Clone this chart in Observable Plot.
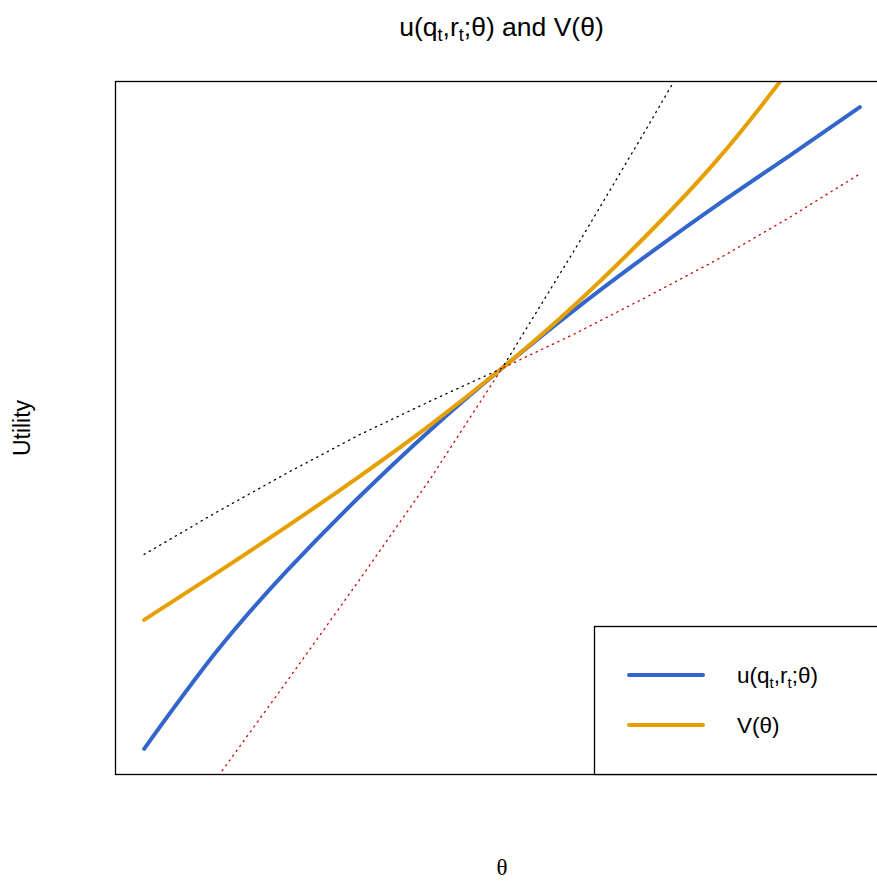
<!DOCTYPE html>
<html>
<head>
<meta charset="utf-8">
<script src="https://cdn.jsdelivr.net/npm/d3@7"></script>
<script src="https://cdn.jsdelivr.net/npm/@observablehq/plot@0.6"></script>
<style>
  html, body { margin: 0; padding: 0; overflow: hidden; background: #fff; }
  #wrap { position: relative; width: 900px; height: 882px; font-family: "Liberation Sans", Arial, sans-serif; }
  #title { height: 50px; line-height: 54px; box-sizing: border-box; padding-left: 115px; padding-right: 12px;
           text-align: center; font-size: 26.5px; color: #000; white-space: nowrap; }
  #title sub { font-size: 0.68em; vertical-align: -0.28em; line-height: 0; }
  #legend { position: absolute; left: 594px; top: 626px; }
</style>
</head>
<body>
<div id="wrap">
  <div id="title">u(q<sub>t</sub>,r<sub>t</sub>;θ) and V(θ)</div>
  <div id="chart"></div>
  <div id="legend"></div>
</div>
<script>
// ---- data ----
const theta = [0, 0.1, 0.2, 0.3, 0.4, 0.5, 0.6, 0.7, 0.8, 0.9, 1.0];
const uValues = [0, 0.150, 0.278, 0.392, 0.497, 0.593, 0.683, 0.767, 0.847, 0.923, 1.0];
const vValues = [0.201, 0.273, 0.347, 0.424, 0.505, 0.593, 0.690, 0.798, 0.917, 1.057, 1.21];
const upperDotted = [0.303, 0.368, 0.430, 0.489, 0.542, 0.593, 0.775, 0.963, 1.155, 1.35, 1.54];
const lowerDotted = [-0.2, -0.048, 0.106, 0.262, 0.421, 0.593, 0.646, 0.703, 0.762, 0.827, 0.896];
const legendLabels = ["u(q_t,r_t;θ)", "V(θ)"];

const BLUE = "#3366CC", ORANGE = "#E69F00", RED = "#CC0000";

const rows = (vals) => theta.map((t, i) => ({theta: t, value: vals[i]}));

const chart = Plot.plot({
  width: 900,
  height: 832,
  marginLeft: 115,
  marginRight: 12,
  marginTop: 31,
  marginBottom: 108,
  style: {fontFamily: "'Liberation Sans', Arial, sans-serif", background: "white", color: "black"},
  x: {domain: [-0.04, 1.04], axis: null},
  y: {domain: [-0.04, 1.04], axis: null},
  marks: [
    Plot.line(rows(uValues), {x: "theta", y: "value", stroke: BLUE, strokeWidth: 4, curve: "natural", clip: true, strokeLinecap: "round"}),
    Plot.line(rows(vValues), {x: "theta", y: "value", stroke: ORANGE, strokeWidth: 4, curve: "natural", clip: true, strokeLinecap: "round"}),
    Plot.line(rows(upperDotted), {x: "theta", y: "value", stroke: "black", strokeWidth: 1.3, strokeDasharray: "1.3,4.7", clip: true}),
    Plot.line(rows(lowerDotted), {x: "theta", y: "value", stroke: RED, strokeWidth: 1.3, strokeDasharray: "1.3,4.7", clip: true}),
    Plot.frame({stroke: "black", strokeWidth: 1.3}),
    Plot.text(["θ"], {text: d => d, frameAnchor: "bottom", lineAnchor: "middle", textAnchor: "middle", dy: 93, fontSize: 23, fontFamily: "'Liberation Serif', 'DejaVu Serif', serif"}),
    Plot.text(["Utility"], {text: d => d, frameAnchor: "left", textAnchor: "middle", lineAnchor: "middle", dx: -93, rotate: -90, fontSize: 23})
  ]
});
document.getElementById("chart").appendChild(chart);

// ---- legend (HTML/SVG overlay) ----
const lg = d3.select("#legend").append("svg").attr("width", 300).attr("height", 150)
  .style("overflow", "visible").style("font-family", "'Liberation Sans', Arial, sans-serif");
lg.append("rect").attr("x", 0.5).attr("y", 0.5).attr("width", 294).attr("height", 148)
  .attr("fill", "white").attr("stroke", "black").attr("stroke-width", 1.3);
const cols = [BLUE, ORANGE];
legendLabels.forEach((lab, i) => {
  const y = 49 + i * 50;
  lg.append("line").attr("x1", 35).attr("x2", 109).attr("y1", y).attr("y2", y)
    .attr("stroke", cols[i]).attr("stroke-width", 4).attr("stroke-linecap", "round");
  const t = lg.append("text").attr("x", 143).attr("y", y + 8).attr("font-size", 22.5).attr("fill", "black");
  const parts = lab.split(/_(.)/);
  let sub = false;
  parts.forEach((p, k) => {
    if (k % 2 === 1) {
      t.append("tspan").attr("font-size", 15).attr("dy", 5).text(p);
      sub = true;
    } else if (p.length) {
      const ts = t.append("tspan").text(p);
      if (sub) { ts.attr("dy", -5); sub = false; }
    }
  });
});
</script>
</body>
</html>
